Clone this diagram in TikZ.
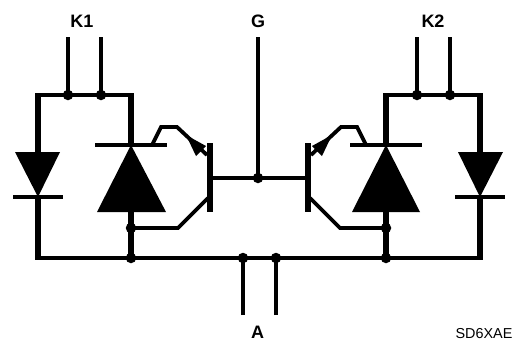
\documentclass[tikz,border=0pt]{standalone}
\usepackage{fontspec}
\setmainfont{Liberation Sans}
\tikzset{
  wire/.style={line width=4.4pt,line cap=butt,line join=miter},
  thick wire/.style={line width=6pt,line join=miter},
  bus wire/.style={line width=4.8pt,line join=miter},
  thin wire/.style={line width=3.8pt,line join=miter},
  dot/.style={circle,fill=black,inner sep=0pt,minimum size=10.5pt},
  solid shape/.style={fill=black,draw=none},
  lab/.style={font=\bfseries\fontsize{18}{18}\selectfont,inner sep=0pt}
}
\begin{document}
\begin{tikzpicture}[x=1pt,y=-1pt]
\useasboundingbox (0,0) rectangle (522,341);
\fill[white] (0,0) rectangle (522,341);
% terminal coordinates
\coordinate (k1a) at (68,37); \coordinate (k1b) at (101,37);
\coordinate (k2a) at (417,37); \coordinate (k2b) at (450,37);
\coordinate (gt) at (258,37);
\coordinate (aa) at (243,315); \coordinate (ab) at (276,315);
% junction nodes
\node[dot] (j1) at (68,95) {}; \node[dot] (j2) at (101,95) {};
\node[dot] (j3) at (417,95) {}; \node[dot] (j4) at (450,95) {};
\node[dot] (jg) at (258,178) {};
\node[dot] (ja) at (243,258) {}; \node[dot] (jb) at (276,258) {};
\node[dot] (l1) at (131,228) {}; \node[dot] (l2) at (131,258) {};
\node[dot] (r1) at (386,228) {}; \node[dot] (r2) at (386,258) {};
% terminals
\draw[wire] (k1a) -- (j1.center); \draw[wire] (k1b) -- (j2.center);
\draw[wire] (k2a) -- (j3.center); \draw[wire] (k2b) -- (j4.center);
\draw[wire] (gt) -- (jg.center);
\draw[wire] (aa) -- (ja.center); \draw[wire] (ab) -- (jb.center);
% main loop
\draw[thick wire] (38,197) -- (38,258);
\draw[thick wire] (480,197) -- (480,258);
\draw[thick wire] (38,152) -- (38,93);
\draw[thick wire] (480,152) -- (480,93);
\draw[thick wire] (131,93) -- (131,145);
\draw[thick wire] (386,93) -- (386,145);
\draw[bus wire] (35,258) -- (l2.center) -- (r2.center) -- (483,258);
\draw[bus wire] (35,95) -- (134,95);
\draw[bus wire] (383,95) -- (483,95);
\draw[thick wire] (131,212) -- (l2.center);
\draw[thick wire] (386,212) -- (r2.center);
% small diodes
\fill[solid shape] (15,152) -- (60,152) -- (38,197) -- cycle;
\fill[solid shape] (503,152) -- (458,152) -- (480,197) -- cycle;
\draw[wire] (13,197) -- (63,197);
\draw[wire] (455,197) -- (505,197);
% big diodes
\fill[solid shape] (97,212) -- (166,212) -- (131,145) -- cycle;
\fill[solid shape] (352,212) -- (420,212) -- (386,145) -- cycle;
\draw[wire] (95,145) -- (167,145);
\draw[wire] (350,145) -- (422,145);
% transistors
\draw[thick wire] (209.5,143) -- (209.5,212);
\draw[thick wire] (308,143) -- (308,212);
\draw[wire] (209,178) -- (jg.center) -- (308,178);
\draw[thin wire] (l1.center) -- (178,228) -- (208,198);
\draw[thin wire] (r1.center) -- (340,228) -- (310,198);
\draw[thin wire] (152,145) -- (161,127) -- (177,127) -- (207,155);
\draw[thin wire] (366,145) -- (357,127) -- (341,127) -- (311,155);
\fill[solid shape] (206,146) -- (186,135) -- (196,156) -- cycle;
\fill[solid shape] (312,146) -- (332,135) -- (322,156) -- cycle;
% labels
\node[lab] (lk1) at (82,21) {K1};
\node[lab] (lk2) at (433,21) {K2};
\node[lab] (lg) at (258,21) {G};
\node[lab] (la) at (257.5,332) {A};
\node[font=\fontsize{14.4}{15}\selectfont,inner sep=0pt] (code) at (484,334) {SD6XAE};
\end{tikzpicture}
\end{document}
